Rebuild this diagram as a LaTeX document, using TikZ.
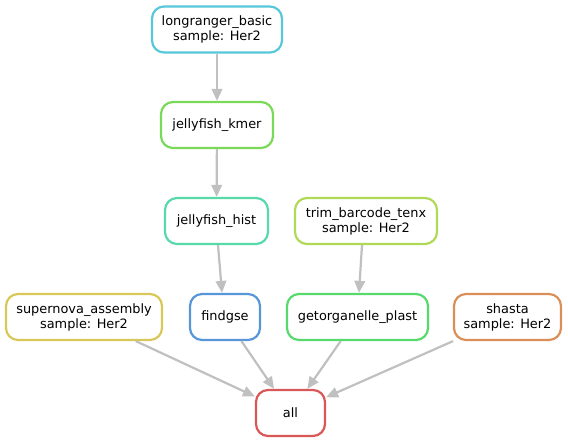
\documentclass[tikz,border=0pt]{standalone}
\usepackage{fontspec}
\setmainfont{DejaVu Sans}
\usetikzlibrary{arrows.meta}
\definecolor{cAll}{RGB}{217,87,87}
\definecolor{cShasta}{RGB}{217,143,87}
\definecolor{cSuper}{RGB}{217,200,87}
\definecolor{cTrim}{RGB}{175,217,87}
\definecolor{cKmer}{RGB}{122,217,87}
\definecolor{cOrg}{RGB}{87,217,110}
\definecolor{cHist}{RGB}{87,217,170}
\definecolor{cLong}{RGB}{87,200,217}
\definecolor{cFind}{RGB}{87,150,217}
\definecolor{cEdge}{RGB}{192,192,192}
\tikzset{
  rulebox/.style={draw, fill=white, rounded corners=12pt, line width=2.2pt, align=center,
    minimum height=46pt, inner sep=0pt, font=\fontsize{12.9}{15}\selectfont},
  dep/.style={draw=cEdge, line width=2.2pt, -{Triangle[length=12pt,width=10.5pt]}}
}
\begin{document}
\begin{tikzpicture}[x=1pt,y=-1pt]
\useasboundingbox (0,0) rectangle (568,443);
\node[rulebox, draw=cLong, minimum width=130pt] (long) at (217,29.5) {longranger\_basic\\sample: Her2};
\node[rulebox, draw=cKmer, minimum width=112pt] (kmer) at (217,125) {jellyfish\_kmer};
\node[rulebox, draw=cHist, minimum width=103pt] (hist) at (216.5,221) {jellyfish\_hist};
\node[rulebox, draw=cTrim, minimum width=142pt] (trim) at (366,221) {trim\_barcode\_tenx\\sample: Her2};
\node[rulebox, draw=cSuper, minimum width=156pt] (super) at (84,317) {supernova\_assembly\\sample: Her2};
\node[rulebox, draw=cFind, minimum width=70pt] (find) at (225,317) {findgse};
\node[rulebox, draw=cOrg, minimum width=141pt] (org) at (357.5,317) {getorganelle\_plast};
\node[rulebox, draw=cShasta, minimum width=107pt] (shasta) at (507.5,317) {shasta\\sample: Her2};
\node[rulebox, draw=cAll, minimum width=69pt] (all) at (290.5,413) {all};
\draw[dep] (long) -- (kmer);
\draw[dep] (kmer) -- (hist);
\draw[dep] ([xshift=1.5pt]hist.south) -- ([xshift=-3pt]find.north);
\draw[dep] ([xshift=-4pt]trim.south) -- ([xshift=1.5pt]org.north);
\draw[dep] (super) -- (all);
\draw[dep] (find) -- (all);
\draw[dep] (org) -- (all);
\draw[dep] (shasta) -- (all);
\end{tikzpicture}
\end{document}
